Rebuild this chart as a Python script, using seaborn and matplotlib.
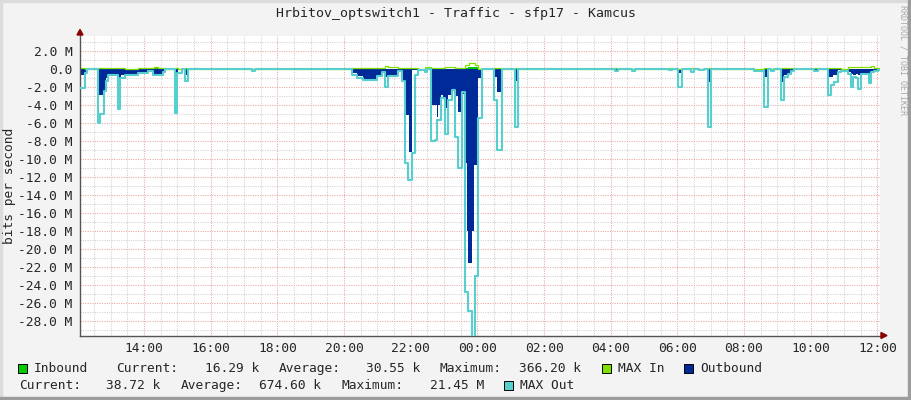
import numpy as np
import matplotlib
matplotlib.use('Agg')
import matplotlib.pyplot as plt
from matplotlib.patches import Rectangle, Polygon
import seaborn as sns

# time in hours after 12:00 of the first day, values in Mbit/s
T_START, T_END = 0.08, 24.08

inbound = [
    (0.08, 0.1), (0.23, 0.0), (0.61, 0.1), (1.21, 0.08), (1.44, 0.05), (1.81, 0.1), (2.11, 0.12),
    (2.31, 0.2), (2.41, 0.1), (2.64, 0.0), (2.93, 0.1), (3.01, 0.0), (3.23, 0.1), (3.31, 0.0),
    (3.53, 0.12), (3.61, 0.0),
    (8.23, 0.08), (8.98, 0.12), (9.23, 0.06), (9.63, 0.1), (10.03, 0.12), (10.23, 0.05), (10.61, 0.1),
    (11.61, 0.2), (11.71, 0.3), (11.91, 0.25), (12.03, 0.05), (12.13, 0.0),
    (12.50, 0.08), (12.73, 0.0), (13.11, 0.08), (13.23, 0.0), (14.13, 0.08), (14.23, 0.0),
    (16.13, 0.1), (16.21, 0.0), (17.75, 0.1), (17.83, 0.0), (18.41, 0.05), (18.51, 0.0),
    (18.64, 0.08), (18.81, 0.0), (18.93, 0.1), (19.01, 0.0), (20.31, 0.05), (20.61, 0.1), (20.73, 0.0),
    (21.11, 0.12), (21.51, 0.0), (22.11, 0.1), (22.21, 0.0), (22.51, 0.12), (22.91, 0.05),
    (23.11, 0.1), (24.01, 0.1),
]

max_in = [
    (0.08, 0.15), (0.23, 0.0), (0.61, 0.15), (1.21, 0.15), (1.44, 0.08), (1.81, 0.15), (2.11, 0.2),
    (2.31, 0.28), (2.41, 0.15), (2.64, 0.0), (2.93, 0.15), (3.01, 0.0), (3.23, 0.15), (3.31, 0.0),
    (3.53, 0.18), (3.61, 0.0),
    (8.23, 0.12), (8.58, 0.2), (8.98, 0.15), (9.23, 0.35), (9.31, 0.25), (9.63, 0.15), (10.03, 0.2),
    (10.23, 0.1), (10.43, 0.3), (10.61, 0.12), (11.03, 0.3), (11.33, 0.2), (11.63, 0.48),
    (11.76, 0.67), (11.93, 0.48), (12.03, 0.1), (12.13, 0.0),
    (12.50, 0.12), (12.73, 0.0), (13.11, 0.12), (13.23, 0.0), (14.13, 0.12), (14.23, 0.0),
    (16.13, 0.12), (16.21, 0.0), (17.75, 0.12), (17.83, 0.0), (18.41, 0.2), (18.51, 0.0),
    (18.64, 0.1), (18.81, 0.0), (18.93, 0.15), (19.01, 0.0), (20.31, 0.05), (20.61, 0.12), (20.73, 0.0),
    (21.11, 0.12), (21.51, 0.0), (22.11, 0.12), (22.21, 0.0), (22.51, 0.2), (22.91, 0.08),
    (23.11, 0.22), (23.81, 0.37), (23.91, 0.2), (24.01, 0.15),
]

outbound = [
    (0.08, -0.6), (0.23, -0.25), (0.29, 0.0), (0.61, -0.5), (0.66, -2.8), (0.81, -2.4), (0.86, -1.0),
    (0.91, -0.6), (1.24, -1.3), (1.31, -0.6), (1.81, -0.35), (2.11, -0.15), (2.26, -0.5), (2.58, -0.2),
    (2.64, 0.0), (2.93, -1.15), (3.01, -0.1), (3.14, 0.0), (3.23, -0.6), (3.31, 0.0),
    (5.23, -0.1), (5.33, 0.0),
    (8.23, -0.45), (8.38, -0.7), (8.58, -1.05), (8.98, -0.6), (9.13, -0.15), (9.23, -0.8), (9.31, -0.6),
    (9.63, -0.1), (9.73, -1.2), (9.83, -5.1), (9.95, -9.2), (10.03, -0.1), (10.23, 0.0), (10.43, -0.2),
    (10.50, 0.0), (10.61, -4.0), (10.78, -5.3), (10.83, -4.0), (10.90, -2.85), (10.98, -3.2),
    (11.05, -4.3), (11.13, -2.85), (11.23, -2.3), (11.33, -3.0), (11.43, -4.7), (11.53, -2.7),
    (11.61, -10.4), (11.68, -18.0), (11.73, -21.45), (11.83, -18.0), (11.91, -10.6), (12.01, -1.0),
    (12.13, 0.0),
    (12.50, -0.8), (12.60, -2.5), (12.73, 0.0), (13.11, -1.26), (13.23, 0.0),
    (16.13, -0.12), (16.21, 0.0), (16.64, -0.08), (16.73, 0.0), (17.75, -0.1), (17.83, 0.0),
    (18.03, -0.4), (18.13, 0.0), (18.64, -0.1), (18.81, 0.0), (18.93, -1.4), (19.01, 0.0),
    (20.31, -0.15), (20.61, -0.8), (20.73, 0.0), (21.11, -1.45), (21.21, -0.6), (21.31, -0.35),
    (21.41, -0.15), (21.51, 0.0), (22.11, -0.1), (22.21, 0.0), (22.51, -0.8), (22.66, -0.6),
    (22.81, -0.1), (22.91, 0.0), (23.11, -0.25), (23.21, -0.5), (23.28, -0.6), (23.36, -0.5),
    (23.43, -0.6), (23.51, -0.35), (23.56, -0.45), (23.66, -0.35), (23.74, -1.0), (23.81, -0.15),
    (23.91, -0.1), (24.01, -0.05),
]

max_out = [
    (0.08, -2.1), (0.23, -0.4), (0.29, 0.0), (0.61, -6.0), (0.69, -5.0), (0.81, -2.4), (0.86, -1.3),
    (0.91, -0.6), (1.23, -4.4), (1.29, -0.9), (1.44, -0.6), (1.81, -0.4), (2.11, -0.2), (2.26, -0.6),
    (2.58, -0.25), (2.64, 0.0), (2.93, -4.8), (2.99, -0.4), (3.14, 0.0), (3.23, -1.3), (3.31, 0.0),
    (5.23, -0.15), (5.33, 0.0),
    (8.23, -0.6), (8.38, -0.9), (8.58, -1.15), (8.98, -0.7), (9.13, -0.3), (9.23, -2.0), (9.31, -0.7),
    (9.63, -0.15), (9.73, -1.3), (9.83, -10.4), (9.93, -12.3), (10.03, -9.3), (10.13, -0.6),
    (10.23, -0.1), (10.43, -0.3), (10.50, 0.0), (10.61, -8.0), (10.73, -7.8), (10.80, -5.6),
    (10.90, -3.2), (11.03, -7.2), (11.11, -3.4), (11.23, -2.3), (11.33, -7.5), (11.43, -11.0),
    (11.53, -2.5), (11.63, -24.7), (11.71, -26.8), (11.83, -30.0), (11.93, -23.0), (12.03, -5.4),
    (12.13, 0.0),
    (12.50, -3.4), (12.60, -8.9), (12.75, 0.0), (13.13, -6.4), (13.23, 0.0),
    (16.13, -0.15), (16.21, 0.0), (16.64, -0.15), (16.73, 0.0), (17.75, -0.1), (17.83, 0.0),
    (18.03, -1.9), (18.13, 0.0), (18.41, -0.25), (18.51, 0.0), (18.64, -0.1), (18.81, 0.0),
    (18.93, -6.4), (19.01, 0.0), (20.31, -0.2), (20.61, -4.2), (20.73, 0.0), (20.81, -0.15),
    (20.91, 0.0), (21.11, -3.4), (21.21, -0.8), (21.31, -0.5), (21.41, -0.2), (21.51, 0.0),
    (22.11, -0.15), (22.21, 0.0), (22.51, -2.85), (22.61, -1.75), (22.71, -1.4), (22.81, -0.3),
    (22.91, -0.15), (23.11, -0.5), (23.21, -1.9), (23.28, -0.8), (23.36, -1.0), (23.43, -2.2),
    (23.51, -0.5), (23.74, -1.55), (23.81, -0.3), (23.91, -0.2), (24.01, -0.1),
]

x_labels = ['14:00', '16:00', '18:00', '20:00', '22:00', '00:00',
            '02:00', '04:00', '06:00', '08:00', '10:00', '12:00']
in_stats = ['16.29 k', '30.55 k', '366.20 k']
out_stats = ['38.72 k', '674.60 k', '21.45 M']

title = 'Hrbitov_optswitch1 - Traffic - sfp17 - Kamcus'

C_IN, C_MAXIN = '#00CC00', '#7FE000'
C_OUT, C_MAXOUT = '#002A97', '#58CFCF'

W, H = 911, 400


def fx(x):
    return x / W


def fy(y):
    return 1 - y / H


def steps(pairs):
    t = np.array([p[0] for p in pairs] + [T_END])
    v = np.array([p[1] for p in pairs] + [pairs[-1][1]])
    return t, v


sns.set_style('white')
plt.rcParams['font.family'] = ['DejaVu Sans Mono']
plt.rcParams['font.size'] = 9.3

fig = plt.figure(figsize=(W / 100, H / 100), dpi=100, facecolor='#F3F3F3')
ax = fig.add_axes([fx(80), fy(335.5), 800 / W, 300 / H])
ax.set_facecolor('white')

t, v = steps(inbound)
ax.fill_between(t, 0, v, step='post', color=C_IN, linewidth=0)
t, v = steps(max_in)
sns.lineplot(x=t, y=v, ax=ax, drawstyle='steps-post', color=C_MAXIN, linewidth=0.9,
             estimator=None, sort=False)
t, v = steps(outbound)
ax.fill_between(t, 0, v, step='post', color=C_OUT, linewidth=0)
t, v = steps(max_out)
sns.lineplot(x=t, y=v, ax=ax, drawstyle='steps-post', color=C_MAXOUT, linewidth=1.5,
             estimator=None, sort=False)
ax.lines[-1].set_zorder(3)

ax.set_xlim(T_START, T_END)
ax.set_ylim(-29.56, 3.77)
ax.set_xlabel('')
ax.set_ylabel('')

ax.set_xticks(np.arange(2, 25, 2))
ax.set_xticklabels(x_labels)
ax.set_xticks(np.arange(0.5, 24.1, 0.5), minor=True)
yt = np.arange(-28, 3, 2)
ax.set_yticks(yt)
ax.set_yticklabels(['0.0' if y == 0 else f'{y:.1f} M' for y in yt])
ax.set_yticks(np.arange(-29, 4, 1), minor=True)

ax.set_axisbelow(True)
ax.grid(which='major', color='#EFA3A3', linestyle=(0, (1, 1.3)), linewidth=0.75)
ax.grid(which='minor', color='#CFCFCF', linestyle=(0, (1, 1.3)), linewidth=0.75)
ax.tick_params(which='major', length=2, width=0.75, color='#E08A8A', labelsize=9.3)
ax.tick_params(axis='y', which='major', pad=3.5)
ax.tick_params(axis='x', which='major', pad=2.5)
ax.tick_params(which='minor', length=0)

for s in ['top', 'right']:
    ax.spines[s].set_visible(False)
for s in ['left', 'bottom']:
    ax.spines[s].set_color('#555555')
    ax.spines[s].set_linewidth(1.0)

# axis arrows
fig.add_artist(Polygon([(fx(77), fy(35)), (fx(83), fy(35)), (fx(80), fy(29.5))],
                       closed=True, color='#8B0000', transform=fig.transFigure))
fig.add_artist(Polygon([(fx(881), fy(332.5)), (fx(881), fy(338.5)), (fx(887), fy(335.5))],
                       closed=True, color='#8B0000', transform=fig.transFigure))

# frame
fig.add_artist(Rectangle((0, fy(2)), 1, fy(0) - fy(2), color='#DCDCDC', transform=fig.transFigure))
fig.add_artist(Rectangle((0, 0), fx(2), 1, color='#DCDCDC', transform=fig.transFigure))
fig.add_artist(Rectangle((fx(908), 0), fx(3), 1, color='#9C9C9C', transform=fig.transFigure))
fig.add_artist(Rectangle((0, 0), 1, 3 / H, color='#9C9C9C', transform=fig.transFigure))

fig.text(fx(455.5), fy(14), title, ha='center', va='center', fontsize=9.5)
fig.text(fx(10), fy(185.5), 'bits per second', rotation=90, ha='center', va='center')
fig.text(fx(902.7), fy(5), 'RRDTOOL / TOBI OETIKER', rotation=270, ha='center', va='top',
         fontsize=6, color='#A8A8A8')


def legend_box(x, y, color):
    fig.add_artist(Rectangle((fx(x), fy(y + 4.5)), 9 / W, 9 / H, facecolor=color,
                             edgecolor='black', linewidth=0.7, transform=fig.transFigure))


r1, r2 = 368.5, 385.5
legend_box(17.5, r1, C_IN)
fig.text(fx(34), fy(r1), 'Inbound', va='center')
fig.text(fx(116), fy(r1), 'Current:', va='center')
fig.text(fx(205), fy(r1), in_stats[0], va='center')
fig.text(fx(279), fy(r1), 'Average:', va='center')
fig.text(fx(366), fy(r1), in_stats[1], va='center')
fig.text(fx(440), fy(r1), 'Maximum:', va='center')
fig.text(fx(519), fy(r1), in_stats[2], va='center')
legend_box(602, r1, C_MAXIN)
fig.text(fx(618), fy(r1), 'MAX In', va='center')
legend_box(684, r1, C_OUT)
fig.text(fx(700), fy(r1), 'Outbound', va='center')

fig.text(fx(19), fy(r2), 'Current:', va='center')
fig.text(fx(106), fy(r2), out_stats[0], va='center')
fig.text(fx(181), fy(r2), 'Average:', va='center')
fig.text(fx(259), fy(r2), out_stats[1], va='center')
fig.text(fx(342), fy(r2), 'Maximum:', va='center')
fig.text(fx(430), fy(r2), out_stats[2], va='center')
legend_box(504, r2, C_MAXOUT)
fig.text(fx(520), fy(r2), 'MAX Out', va='center')

fig.savefig('out.png', dpi=100, facecolor=fig.get_facecolor())
